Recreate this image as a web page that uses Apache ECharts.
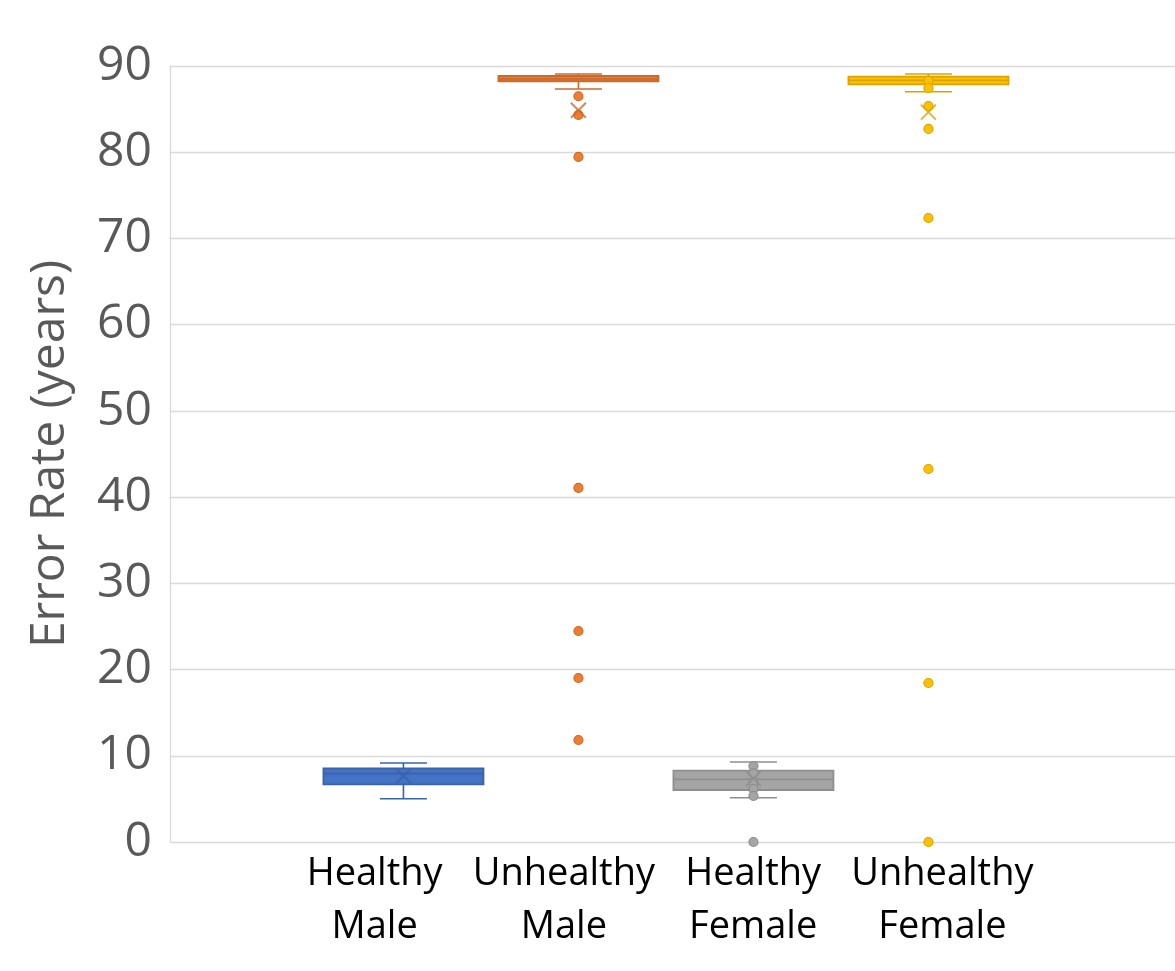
<!DOCTYPE html>
<html>
<head>
<meta charset="utf-8">
<script src="https://cdn.jsdelivr.net/npm/echarts@6/dist/echarts.min.js"></script>
<style>
html,body{margin:0;padding:0;background:#fff;}
#chart{width:1175px;height:971px;}
</style>
</head>
<body>
<div id="chart"></div>
<script>
// ---- data ----
var categories = ['Healthy\nMale', 'Unhealthy\nMale', 'Healthy\nFemale', 'Unhealthy\nFemale'];
// [min, Q1, median, Q3, max]
var boxHealthyMale    = [5.02, 6.69, 7.92, 8.55, 9.16];
var boxUnhealthyMale  = [87.33, 88.23, 88.5, 88.84, 89.07];
var boxHealthyFemale  = [5.14, 6.03, 7.27, 8.27, 9.28];
var boxUnhealthyFemale= [87.02, 87.88, 88.34, 88.76, 89.07];
var means = [7.65, 84.86, 7.35, 84.65];
var ptsHealthyMale = [];
var ptsUnhealthyMale = [86.49, 84.32, 79.45, 41.06, 24.47, 19.02, 11.83];
var ptsHealthyFemale = [8.81, 7.97, 6.88, 6.15, 5.34, 0];
var ptsUnhealthyFemale = [88.3, 87.45, 85.36, 82.7, 72.37, 43.26, 18.44, 0];
var yTicks = [0, 10, 20, 30, 40, 50, 60, 70, 80, 90];

var boxes = [boxHealthyMale, boxUnhealthyMale, boxHealthyFemale, boxUnhealthyFemale];
var points = [ptsHealthyMale, ptsUnhealthyMale, ptsHealthyFemale, ptsUnhealthyFemale];

// ---- styles ----
var palette = [
  {fill: '#4472C4', border: '#3A62AA'},
  {fill: '#ED7D31', border: '#CC6A2A'},
  {fill: '#A5A5A5', border: '#8E8E8E'},
  {fill: '#FFC000', border: '#D9A400'}
];
var BOX_W = 160, CAP_W = 47;
var FONT = "'Open Sans', 'DejaVu Sans', sans-serif";

var chart = echarts.init(document.getElementById('chart'), null, {renderer: 'canvas'});

var boxData = boxes.map(function (s, i) { return [i + 1].concat(s); });

var series = [{
  type: 'custom',
  xAxisIndex: 0, yAxisIndex: 0,
  z: 2,
  encode: {x: 0, y: [1, 2, 3, 4, 5]},
  data: boxData,
  renderItem: function (params, api) {
    var x = api.value(0);
    var lo = api.coord([x, api.value(1)]);
    var q1 = api.coord([x, api.value(2)]);
    var md = api.coord([x, api.value(3)]);
    var q3 = api.coord([x, api.value(4)]);
    var hi = api.coord([x, api.value(5)]);
    var c = palette[params.dataIndex];
    var cx = lo[0];
    var ls = {stroke: c.border, lineWidth: 1.6};
    return {
      type: 'group',
      children: [
        {type: 'line', shape: {x1: cx, y1: lo[1], x2: cx, y2: q1[1]}, style: ls},
        {type: 'line', shape: {x1: cx, y1: hi[1], x2: cx, y2: q3[1]}, style: ls},
        {type: 'line', shape: {x1: cx - CAP_W / 2, y1: lo[1], x2: cx + CAP_W / 2, y2: lo[1]}, style: ls},
        {type: 'line', shape: {x1: cx - CAP_W / 2, y1: hi[1], x2: cx + CAP_W / 2, y2: hi[1]}, style: ls},
        {type: 'rect', shape: {x: cx - BOX_W / 2, y: q3[1], width: BOX_W, height: q1[1] - q3[1]},
          style: {fill: c.fill, stroke: c.border, lineWidth: 1.8}},
        {type: 'line', shape: {x1: cx - BOX_W / 2, y1: md[1], x2: cx + BOX_W / 2, y2: md[1]},
          style: {stroke: c.border, lineWidth: 1.8}}
      ]
    };
  }
}];

points.forEach(function (arr, i) {
  series.push({
    type: 'scatter',
    xAxisIndex: 0, yAxisIndex: 0,
    z: 3,
    symbol: 'circle',
    symbolSize: 9,
    clip: false,
    itemStyle: {color: palette[i].fill, borderColor: palette[i].border, borderWidth: 1.2, opacity: 1},
    data: arr.map(function (v) { return [i + 1, v]; })
  });
});

series.push({
  type: 'scatter',
  xAxisIndex: 0, yAxisIndex: 0,
  z: 4,
  symbol: 'path://M0,0L10,10M10,0L0,10',
  symbolSize: 15,
  data: means.map(function (v, i) {
    return {value: [i + 1, v], itemStyle: {color: 'rgba(0,0,0,0)', borderColor: palette[i].border, borderWidth: 2}};
  })
});

var option = {
  backgroundColor: '#ffffff',
  animation: false,
  grid: [
    {left: 170, right: 0, top: 66, bottom: 129},
    {left: 280, right: 138, top: 66, bottom: 129}
  ],
  xAxis: [{
    type: 'value', gridIndex: 0, min: -0.334, max: 5.409,
    show: false
  }, {
    type: 'category', gridIndex: 1, data: categories,
    axisLine: {show: false}, axisTick: {show: false}, splitLine: {show: false},
    axisLabel: {
      color: '#000000', fontSize: 38, fontFamily: FONT, lineHeight: 53, margin: 6,
      interval: 0
    }
  }],
  yAxis: [{
    type: 'value', gridIndex: 0, min: 0, max: 90, interval: 10,
    name: 'Error Rate (years)',
    nameLocation: 'middle', nameRotate: 90, nameGap: 96,
    nameTextStyle: {color: '#595959', fontSize: 48, fontFamily: FONT},
    axisLine: {show: true, onZero: false, lineStyle: {color: '#D9D9D9', width: 1.3}},
    axisTick: {show: false},
    splitLine: {show: true, lineStyle: {color: '#D9D9D9', width: 1.3}},
    axisLabel: {
      color: '#595959', fontSize: 48, fontFamily: FONT, margin: 18,
      formatter: function (v) { return yTicks.indexOf(v) >= 0 ? String(v) : ''; }
    }
  }, {
    type: 'value', gridIndex: 1, min: 0, max: 90, show: false
  }],
  series: series
};
chart.setOption(option);
</script>
</body>
</html>
